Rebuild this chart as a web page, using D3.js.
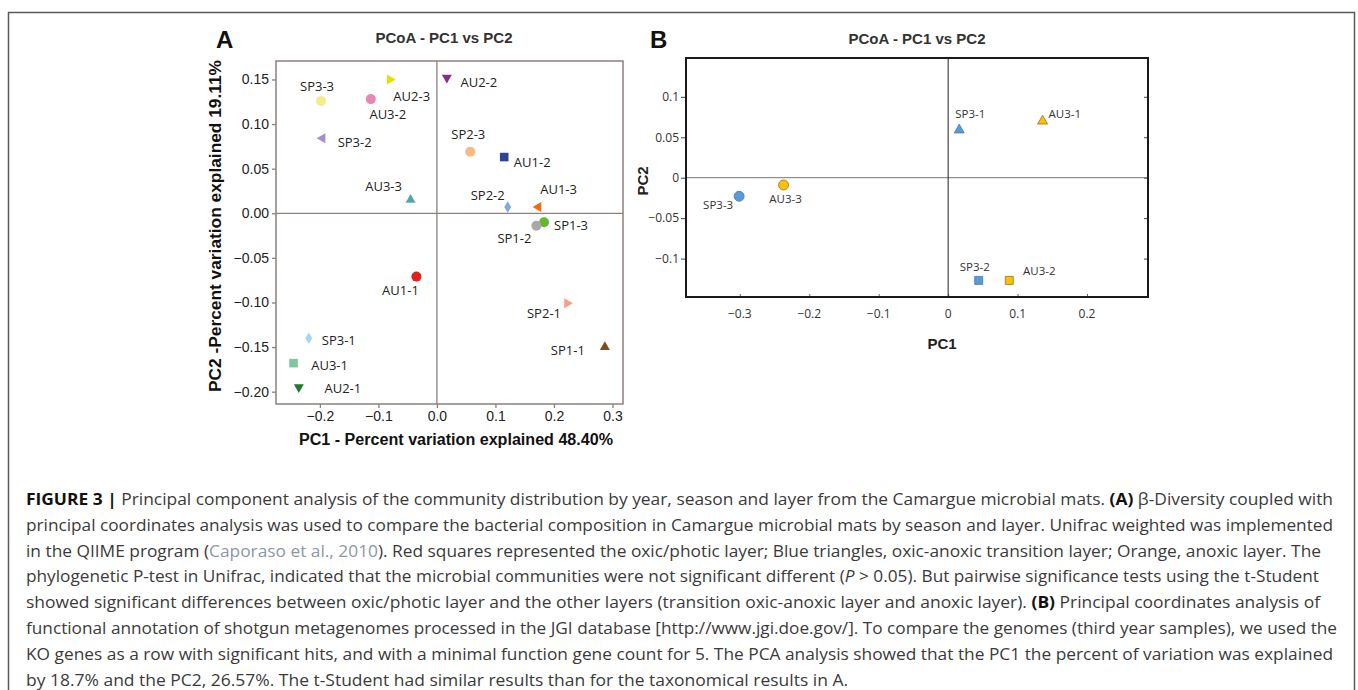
<!DOCTYPE html>
<html>
<head>
<meta charset="utf-8">
<script src="https://cdn.jsdelivr.net/npm/d3@7"></script>
<style>
    body { margin: 0; background: #fff; }
    svg { display: block; }
</style>
</head>
<body>
<div id="chart"></div>
<script>
// panel A - PCoA (Unifrac), 18 samples
const samplesA = ['SP3-3', 'AU3-2', 'AU2-3', 'SP3-2', 'AU2-2', 'SP2-3', 'AU1-2', 'AU3-3', 'SP2-2',
    'AU1-3', 'SP1-3', 'SP1-2', 'AU1-1', 'SP2-1', 'SP1-1', 'SP3-1', 'AU3-1', 'AU2-1'];
const pc1A = [-0.198, -0.113, -0.079, -0.197, 0.017, 0.057, 0.115, -0.045, 0.121,
    0.172, 0.183, 0.170, -0.035, 0.224, 0.287, -0.219, -0.245, -0.236];
const pc2A = [0.126, 0.128, 0.150, 0.084, 0.151, 0.069, 0.063, 0.016, 0.007,
    0.007, -0.010, -0.014, -0.071, -0.101, -0.149, -0.140, -0.168, -0.196];
const xTicksA = [-0.2, -0.1, 0.0, 0.1, 0.2, 0.3];
const yTicksA = [-0.20, -0.15, -0.10, -0.05, 0.00, 0.05, 0.10, 0.15];

// panel B - PCA (KO genes), third year samples
const samplesB = ['SP3-1', 'AU3-1', 'SP3-3', 'AU3-3', 'SP3-2', 'AU3-2'];
const pc1B = [0.016, 0.136, -0.301, -0.237, 0.044, 0.088];
const pc2B = [0.060, 0.071, -0.023, -0.009, -0.127, -0.127];
const xTicksB = [-0.3, -0.2, -0.1, 0, 0.1, 0.2];
const yTicksB = [-0.1, -0.05, 0, 0.05, 0.1];

// marker styles
const colorA = ['#f3ec8c', '#ea86b6', '#e6e000', '#a58fcb', '#8e2a8e', '#f7b985', '#2e4597', '#55a6a3', '#80a9dc',
    '#f26b13', '#63b830', '#a8a8a8', '#e3211c', '#f59e8c', '#7b4f1d', '#a4d9ec', '#7fc59d', '#1d7a2e'];
const shapeA = ['circle', 'circle', 'right', 'left', 'down', 'circle', 'square', 'up', 'diamond',
    'left', 'circle', 'circle', 'circle', 'right', 'up', 'diamond', 'square', 'down'];
const shapeB = ['up', 'up', 'circle', 'circle', 'square', 'square'];

// label offsets from the marker [dx, dy, anchor]
const labelA = [[-4, -14, 'middle'], [17, 15, 'middle'], [21, 17, 'middle'], [33, 4, 'middle'], [32, 4, 'middle'],
    [-2, -17, 'middle'], [28, 5, 'middle'], [-27, -13, 'middle'], [-20, -12, 'middle'], [21, -18, 'middle'],
    [27, 3, 'middle'], [-22, 13, 'middle'], [-16, 14, 'middle'], [-24, 10, 'middle'], [-37, 4, 'middle'],
    [30, 2, 'middle'], [36, 2, 'middle'], [44, 0, 'middle']];
const labelB = [[11, -15, 'middle'], [6, -6, 'start'], [-21, 9, 'middle'], [2, 14, 'middle'],
    [-4, -13, 'middle'], [30, -9, 'middle']];

const captionLines = [
    [['b', 'FIGURE 3 | '], ['', 'Principal component analysis of the community distribution by year, season and layer from the Camargue microbial mats. '], ['b', '(A)'], ['', ' β-Diversity coupled with']],
    [['', 'principal coordinates analysis was used to compare the bacterial composition in Camargue microbial mats by season and layer. Unifrac weighted was implemented']],
    [['', 'in the QIIME program ('], ['ref', 'Caporaso et al., 2010'], ['', '). Red squares represented the oxic/photic layer; Blue triangles, oxic-anoxic transition layer; Orange, anoxic layer. The']],
    [['', 'phylogenetic P-test in Unifrac, indicated that the microbial communities were not significant different ('], ['i', 'P'], ['', ' > 0.05). But pairwise significance tests using the t-Student']],
    [['', 'showed significant differences between oxic/photic layer and the other layers (transition oxic-anoxic layer and anoxic layer). '], ['b', '(B)'], ['', ' Principal coordinates analysis of']],
    [['', 'functional annotation of shotgun metagenomes processed in the JGI database [http://www.jgi.doe.gov/]. To compare the genomes (third year samples), we used the']],
    [['', 'KO genes as a row with significant hits, and with a minimal function gene count for 5. The PCA analysis showed that the PC1 the percent of variation was explained']],
    [['', 'by 18.7% and the PC2, 26.57%. The t-Student had similar results than for the taxonomical results in A.']],
];
const captionEnds = [1333, 1333, 1321, 1319, 1320, 1337, 1333, 848];

function shapePath(shape, s) {
    switch (shape) {
    case 'circle':
        return `M${s},0 A${s},${s} 0 1 1 ${-s},0 A${s},${s} 0 1 1 ${s},0 Z`;
    case 'square':
        return `M${-s},${-s} H${s} V${s} H${-s} Z`;
    case 'up':
        return `M0,${-s} L${s},${s * 0.75} L${-s},${s * 0.75} Z`;
    case 'down':
        return `M0,${s} L${s},${-s * 0.75} L${-s},${-s * 0.75} Z`;
    case 'left':
        return `M${-s},0 L${s * 0.75},${-s} L${s * 0.75},${s} Z`;
    case 'right':
        return `M${s},0 L${-s * 0.75},${-s} L${-s * 0.75},${s} Z`;
    case 'diamond':
        return `M0,${-s * 1.15} L${s * 0.7},0 L0,${s * 1.15} L${-s * 0.7},0 Z`;
    default:
        return '';
    }
}

const W = 1358, H = 690;
const svg = d3.select('#chart').append('svg')
    .attr('width', W)
    .attr('height', H);

// outer figure frame
svg.append('rect')
    .attr('x', 8.5).attr('y', 12.5)
    .attr('width', 1346).attr('height', 700)
    .attr('fill', 'none')
    .attr('stroke', '#5a5a5a')
    .attr('stroke-width', 1.5);

const sans = 'Liberation Sans, Arial, sans-serif';
const label = 'Open Sans, sans-serif';

// ---------- panel A ----------
{
    const m = { left: 276, right: 623, top: 61, bottom: 404 };
    const x = d3.scaleLinear().domain([-0.275, 0.318]).range([m.left, m.right]);
    const y = d3.scaleLinear().domain([-0.2138, 0.1707]).range([m.bottom, m.top]);
    const frame = '#8a817c';
    const g = svg.append('g');

    g.append('text')
        .attr('x', 216).attr('y', 48)
        .attr('font-family', sans).attr('font-weight', 'bold')
        .attr('font-size', 24).attr('fill', '#111')
        .text('A');
    g.append('text')
        .attr('x', 444).attr('y', 43)
        .attr('text-anchor', 'middle')
        .attr('font-family', sans).attr('font-weight', 'bold')
        .attr('font-size', 15).attr('fill', '#333')
        .text('PCoA - PC1 vs PC2');

    const yAxis = d3.axisLeft(y)
        .tickValues(yTicksA)
        .tickFormat(d3.format('.2f'))
        .tickSize(4).tickPadding(3);
    const xAxis = d3.axisBottom(x)
        .tickValues(xTicksA)
        .tickFormat(d3.format('.1f'))
        .tickSize(4).tickPadding(3);

    g.append('g')
        .attr('transform', `translate(${m.left},0)`)
        .call(yAxis)
        .call(a => a.select('.domain').remove())
        .call(a => a.selectAll('line').attr('stroke', frame).attr('stroke-width', 1.3))
        .call(a => a.selectAll('text').attr('font-family', sans).attr('font-size', 14).attr('fill', '#222'));
    g.append('g')
        .attr('transform', `translate(0,${m.bottom})`)
        .call(xAxis)
        .call(a => a.select('.domain').remove())
        .call(a => a.selectAll('line').attr('stroke', frame).attr('stroke-width', 1.3))
        .call(a => a.selectAll('text').attr('font-family', sans).attr('font-size', 14).attr('fill', '#222'));

    g.append('rect')
        .attr('x', m.left).attr('y', m.top)
        .attr('width', m.right - m.left).attr('height', m.bottom - m.top)
        .attr('fill', 'none').attr('stroke', frame).attr('stroke-width', 1.5);
    g.append('line')
        .attr('x1', x(0)).attr('x2', x(0)).attr('y1', m.top).attr('y2', m.bottom)
        .attr('stroke', frame).attr('stroke-width', 1.3);
    g.append('line')
        .attr('x1', m.left).attr('x2', m.right).attr('y1', y(0)).attr('y2', y(0))
        .attr('stroke', frame).attr('stroke-width', 1.3);

    const pts = g.selectAll('.pt')
        .data(samplesA)
        .join('g')
        .attr('class', 'pt')
        .attr('transform', (d, i) => `translate(${x(pc1A[i])},${y(pc2A[i])})`);
    pts.append('path')
        .attr('d', (d, i) => shapePath(shapeA[i], shapeA[i] === 'square' ? 4.3 : 5))
        .attr('fill', (d, i) => colorA[i]);
    pts.append('text')
        .attr('x', (d, i) => labelA[i][0])
        .attr('y', (d, i) => labelA[i][1])
        .attr('dy', '0.35em')
        .attr('text-anchor', (d, i) => labelA[i][2])
        .attr('font-family', label).attr('font-size', 13).attr('fill', '#222')
        .text(d => d);

    g.append('text')
        .attr('transform', 'translate(221,226) rotate(-90)')
        .attr('text-anchor', 'middle')
        .attr('font-family', sans).attr('font-weight', 'bold')
        .attr('font-size', 16.5).attr('fill', '#111')
        .attr('textLength', 332).attr('lengthAdjust', 'spacingAndGlyphs')
        .text('PC2 -Percent variation explained 19.11%');
    g.append('text')
        .attr('x', 456).attr('y', 445)
        .attr('text-anchor', 'middle')
        .attr('font-family', sans).attr('font-weight', 'bold')
        .attr('font-size', 16).attr('fill', '#111')
        .attr('textLength', 314).attr('lengthAdjust', 'spacingAndGlyphs')
        .text('PC1 - Percent variation explained 48.40%');
}

// ---------- panel B ----------
{
    const m = { left: 686, right: 1148, top: 58, bottom: 297 };
    const x = d3.scaleLinear().domain([-0.3775, 0.2878]).range([m.left, m.right]);
    const y = d3.scaleLinear().domain([-0.1475, 0.148]).range([m.bottom, m.top]);
    const g = svg.append('g');
    const fmt = d => d3.format('~g')(d);
    const blue = ['#5b9bd5', '#3f79b4'], gold = ['#ffc000', '#8a7434'];

    g.append('text')
        .attr('x', 650).attr('y', 48)
        .attr('font-family', sans).attr('font-weight', 'bold')
        .attr('font-size', 24).attr('fill', '#111')
        .text('B');
    g.append('text')
        .attr('x', 917).attr('y', 44)
        .attr('text-anchor', 'middle')
        .attr('font-family', sans).attr('font-weight', 'bold')
        .attr('font-size', 15).attr('fill', '#333')
        .text('PCoA - PC1 vs PC2');

    g.append('g')
        .attr('transform', `translate(${m.left},0)`)
        .call(d3.axisLeft(y).tickValues(yTicksB).tickFormat(fmt).tickSize(5).tickPadding(2))
        .call(a => a.select('.domain').remove())
        .call(a => a.selectAll('line').attr('stroke', '#444'))
        .call(a => a.selectAll('text').attr('font-family', label).attr('font-size', 12).attr('fill', '#333'));
    g.append('g')
        .attr('transform', `translate(${m.right},0)`)
        .call(d3.axisLeft(y).tickValues(yTicksB).tickFormat('').tickSize(4))
        .call(a => a.select('.domain').remove())
        .call(a => a.selectAll('line').attr('stroke', '#444'));
    g.append('g')
        .attr('transform', `translate(0,${m.bottom})`)
        .call(d3.axisTop(x).tickValues(xTicksB).tickFormat('').tickSize(3))
        .call(a => a.select('.domain').remove())
        .call(a => a.selectAll('line').attr('stroke', '#666'));
    g.append('g')
        .selectAll('text')
        .data(xTicksB)
        .join('text')
        .attr('x', d => x(d)).attr('y', 318)
        .attr('text-anchor', 'middle')
        .attr('font-family', label).attr('font-size', 12).attr('fill', '#333')
        .text(fmt);

    g.append('line')
        .attr('x1', m.left).attr('x2', m.right).attr('y1', y(0)).attr('y2', y(0))
        .attr('stroke', '#777').attr('stroke-width', 1);
    g.append('line')
        .attr('x1', x(0)).attr('x2', x(0)).attr('y1', m.top).attr('y2', m.bottom)
        .attr('stroke', '#222').attr('stroke-width', 1);
    g.append('rect')
        .attr('x', m.left).attr('y', m.top)
        .attr('width', m.right - m.left).attr('height', m.bottom - m.top)
        .attr('fill', 'none').attr('stroke', '#1a1a1a').attr('stroke-width', 2);

    const pts = g.selectAll('.pt')
        .data(samplesB)
        .join('g')
        .attr('class', 'pt')
        .attr('transform', (d, i) => `translate(${x(pc1B[i])},${y(pc2B[i])})`);
    pts.append('path')
        .attr('d', (d, i) => shapePath(shapeB[i], shapeB[i] === 'square' ? 4 : 5))
        .attr('fill', d => (d.startsWith('SP') ? blue : gold)[0])
        .attr('stroke', d => (d.startsWith('SP') ? blue : gold)[1])
        .attr('stroke-width', 0.8);
    pts.append('text')
        .attr('x', (d, i) => labelB[i][0])
        .attr('y', (d, i) => labelB[i][1])
        .attr('dy', '0.35em')
        .attr('text-anchor', (d, i) => labelB[i][2])
        .attr('font-family', label).attr('font-size', 11.5).attr('fill', '#333')
        .text(d => d);

    g.append('text')
        .attr('transform', 'translate(648,181) rotate(-90)')
        .attr('text-anchor', 'middle')
        .attr('font-family', sans).attr('font-weight', 'bold')
        .attr('font-size', 15).attr('fill', '#222')
        .text('PC2');
    g.append('text')
        .attr('x', 942).attr('y', 349)
        .attr('text-anchor', 'middle')
        .attr('font-family', sans).attr('font-weight', 'bold')
        .attr('font-size', 15).attr('fill', '#222')
        .text('PC1');
}

// ---------- caption ----------
{
    const x0 = 26, base = 505, lh = 25.8;
    const cap = svg.append('g')
        .attr('font-family', 'Open Sans, sans-serif')
        .attr('font-size', 16.2)
        .attr('fill', '#3a3a3a');
    captionLines.forEach((parts, i) => {
        const t = cap.append('text')
            .attr('x', x0)
            .attr('y', base + i * lh);
        parts.forEach(([style, str]) => {
            const s = t.append('tspan').text(str);
            if (style === 'b') s.attr('font-weight', 'bold').attr('fill', '#111');
            if (style === 'i') s.attr('font-style', 'italic');
            if (style === 'ref') s.attr('fill', '#8c97a6');
        });
        if (captionEnds[i]) {
            t.attr('textLength', captionEnds[i] - x0).attr('lengthAdjust', 'spacingAndGlyphs');
        }
    });
}
</script>
</body>
</html>
